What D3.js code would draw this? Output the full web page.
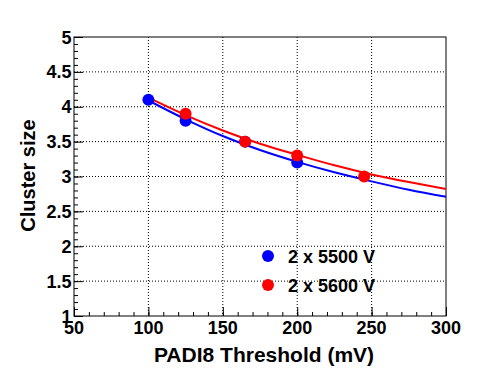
<!DOCTYPE html>
<html><head><meta charset="utf-8">
<script src="https://cdn.jsdelivr.net/npm/d3@7"></script>
<style>body{margin:0;background:#fff}</style>
</head><body>
<svg id="c" width="496" height="372"></svg>
<script>
// Data
const xTicks = [50, 100, 150, 200, 250, 300];
const yTicks = [1, 1.5, 2, 2.5, 3, 3.5, 4, 4.5, 5];
const seriesNames = ["2 x 5500 V", "2 x 5600 V"];
const blueX = [100, 125, 165, 200];
const blueY = [4.1, 3.8, 3.5, 3.2];
const redX = [125, 165, 200, 245];
const redY = [3.9, 3.5, 3.3, 3.0];
const fitX = [100, 125, 150, 175, 200, 225, 250, 275, 300];
const blueFitY = [4.09, 3.82, 3.58, 3.38, 3.21, 3.06, 2.93, 2.81, 2.71];
const redFitY = [4.13, 3.88, 3.66, 3.47, 3.31, 3.16, 3.03, 2.92, 2.82];

const L = 74, R = 446, T = 37, B = 316;
const svg = d3.select("#c");
const x = d3.scaleLinear().domain([50, 300]).range([L, R]);
const y = d3.scaleLinear().domain([1, 5]).range([B, T]);
const font = "'Liberation Sans', Arial, sans-serif";

// grid
const g = svg.append("g");
xTicks.slice(1, -1).forEach(v => g.append("line").attr("x1", x(v)).attr("x2", x(v)).attr("y1", T).attr("y2", B)
  .attr("stroke", "#000").attr("stroke-dasharray", "1,2"));
yTicks.slice(1, -1).forEach(v => g.append("line").attr("x1", L).attr("x2", R).attr("y1", y(v)).attr("y2", y(v))
  .attr("stroke", "#000").attr("stroke-dasharray", "1,2"));

// axes
const xMinor = d3.range(50, 301, 10);
const yMinor = d3.range(10, 51, 1).map(d => d / 10);
svg.append("g").attr("transform", `translate(0,${B})`)
  .call(d3.axisTop(x).tickValues(xMinor).tickSize(4).tickFormat(""))
  .call(a => a.select(".domain").remove());
svg.append("g").attr("transform", `translate(0,${B})`)
  .call(d3.axisTop(x).tickValues(xTicks).tickSize(9).tickFormat(""))
  .call(a => a.select(".domain").remove());
svg.append("g").attr("transform", `translate(${L},0)`)
  .call(d3.axisRight(y).tickValues(yMinor).tickSize(4).tickFormat(""))
  .call(a => a.select(".domain").remove());
svg.append("g").attr("transform", `translate(${L},0)`)
  .call(d3.axisRight(y).tickValues(yTicks).tickSize(9).tickFormat(""))
  .call(a => a.select(".domain").remove());
svg.selectAll(".tick line").attr("stroke", "#000");

svg.append("rect").attr("x", L).attr("y", T).attr("width", R - L).attr("height", B - T)
  .attr("fill", "none").attr("stroke", "#000").attr("stroke-width", 1);

// tick labels
svg.append("g").selectAll("text").data(xTicks).join("text")
  .attr("x", d => x(d)).attr("y", B + 18).attr("text-anchor", "middle")
  .attr("font-family", font).attr("font-weight", "bold").attr("font-size", 18).text(d => d);
svg.append("g").selectAll("text").data(yTicks).join("text")
  .attr("x", L - 2.5).attr("y", d => y(d) + 6.5).attr("text-anchor", "end")
  .attr("font-family", font).attr("font-weight", "bold").attr("font-size", 18).text(d => d);

// titles
svg.append("text").attr("x", (L + R) / 2 + 4).attr("y", 362).attr("text-anchor", "middle")
  .attr("font-family", font).attr("font-weight", "bold").attr("font-size", 21).text("PADI8 Threshold (mV)");
svg.append("text").attr("transform", `translate(35,${(T + B) / 2 - 1}) rotate(-90)`).attr("text-anchor", "middle")
  .attr("font-family", font).attr("font-weight", "bold").attr("font-size", 20).text("Cluster size");

// fit lines
const line = d3.line().x(d => x(d[0])).y(d => y(d[1])).curve(d3.curveMonotoneX);
svg.append("path").datum(d3.zip(fitX, blueFitY)).attr("d", line).attr("fill", "none").attr("stroke", "#0000ff").attr("stroke-width", 2);
svg.append("path").datum(d3.zip(fitX, redFitY)).attr("d", line).attr("fill", "none").attr("stroke", "#ff0000").attr("stroke-width", 2);

// points
svg.append("g").selectAll("circle").data(d3.zip(blueX, blueY)).join("circle")
  .attr("cx", d => x(d[0])).attr("cy", d => y(d[1])).attr("r", 6).attr("fill", "#0000ff");
svg.append("g").selectAll("circle").data(d3.zip(redX, redY)).join("circle")
  .attr("cx", d => x(d[0])).attr("cy", d => y(d[1])).attr("r", 6).attr("fill", "#ff0000");

// legend
const colors = ["#0000ff", "#ff0000"];
const leg = svg.append("g");
seriesNames.forEach((n, i) => {
  const cy = 256 + i * 29;
  leg.append("circle").attr("cx", 268).attr("cy", cy).attr("r", 6).attr("fill", colors[i]);
  leg.append("text").attr("x", 288).attr("y", cy + 6.5).attr("font-family", font).attr("font-weight", "bold")
    .attr("font-size", 18).text(n);
});
</script>
</body></html>
